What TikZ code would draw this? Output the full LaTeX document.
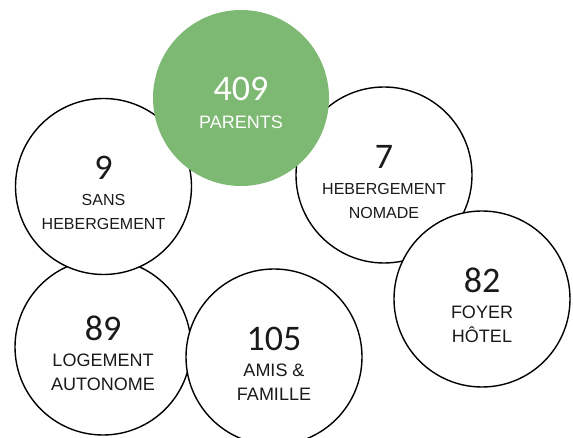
\documentclass[tikz,border=0pt]{standalone}
\usepackage{fontspec}
\setmainfont{Liberation Sans}
\newfontfamily\numfont{Carlito}
\usetikzlibrary{calc}
\definecolor{parentgreen}{HTML}{7DB972}
\definecolor{inktext}{HTML}{1A1A1A}

\begin{document}
\begin{tikzpicture}[x=1pt, y=-1pt,
    bubble/.style={circle, draw=black, line width=1.4pt, fill=white, minimum size=176pt, inner sep=0pt},
    count/.style={anchor=base, inner sep=0pt, font=\numfont\fontsize{36}{36}\selectfont, text=inktext},
    caption/.style={anchor=base, inner sep=0pt, text=inktext}]
    \clip (0,0) rectangle (573,438);
    % white circles, drawn back to front
    \foreach \n/\x/\y/\v/\a/\b/\s in {logement/103/347/89/LOGEMENT/AUTONOME/18,
            amis/274/357/105/AMIS \&/FAMILLE/18,
            sans/103.5/186.5/9/SANS/HEBERGEMENT/16,
            nomade/384/175/7/HEBERGEMENT/NOMADE/16,
            foyer/482/299/82/FOYER/HÔTEL/18} {
        \node[bubble] (\n) at (\x,\y) {};
        \node[count] (\n-num) at ($(\n)+(0,-6.5)$) {\v};
        \node[caption, font=\fontsize{\s}{\s}\selectfont] (\n-a) at ($(\n)+(0,19.5)$) {\a};
        \node[caption, font=\fontsize{\s}{\s}\selectfont] (\n-b) at ($(\n)+(0,43.5)$) {\b};
    }
    % total, on top
    \node[bubble, draw=none, fill=parentgreen] (parents) at (241,98) {};
    \node[count, text=white] (parents-num) at ($(parents)+(0,3)$) {409};
    \node[caption, text=white, font=\fontsize{18}{18}\selectfont] (parents-a) at ($(parents)+(0,31)$) {PARENTS};
\end{tikzpicture}
\end{document}
